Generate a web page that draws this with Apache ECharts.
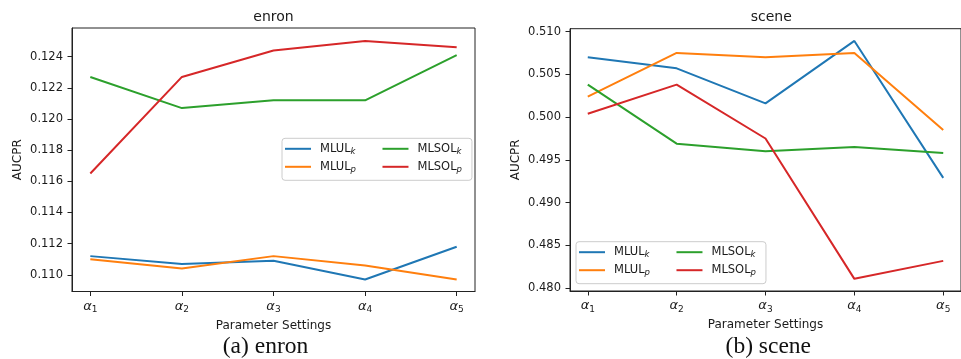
<!DOCTYPE html>
<html><head><meta charset="utf-8">
<script src="https://cdn.jsdelivr.net/npm/echarts@6/dist/echarts.min.js"></script>
<style>html,body{margin:0;padding:0;background:#fff}#c{width:961px;height:359px}</style>
</head><body><div id="c"></div>
<script>
// ---- data ----
const params = [1, 2, 3, 4, 5];
const paramSubs = ['1', '2', '3', '4', '5'];
const seriesNames = ['MLUL_k', 'MLUL_p', 'MLSOL_k', 'MLSOL_p'];
const seriesColors = ['#1f77b4', '#ff7f0e', '#2ca02c', '#d62728'];

const enronMLULk  = [0.1112, 0.1107, 0.1109, 0.1097, 0.1118];
const enronMLULp  = [0.1110, 0.1104, 0.1112, 0.1106, 0.1097];
const enronMLSOLk = [0.1227, 0.1207, 0.1212, 0.1212, 0.1241];
const enronMLSOLp = [0.1165, 0.1227, 0.1244, 0.1250, 0.1246];

const sceneMLULk  = [0.5070, 0.5057, 0.5016, 0.5089, 0.4929];
const sceneMLULp  = [0.5024, 0.5075, 0.5070, 0.5075, 0.4985];
const sceneMLSOLk = [0.5038, 0.4969, 0.4960, 0.4965, 0.4958];
const sceneMLSOLp = [0.5004, 0.5038, 0.4975, 0.4811, 0.4832];

const enronTicks = [0.110, 0.112, 0.114, 0.116, 0.118, 0.120, 0.122, 0.124];
const sceneTicks = [0.480, 0.485, 0.490, 0.495, 0.500, 0.505, 0.510];

const titles = ['enron', 'scene'];
const captions = ['(a) enron', '(b) scene'];
const xName = 'Parameter Settings';
const yName = 'AUCPR';

// ---- styling ----
const TXT = '#1a1a1a';
const FONT = 'DejaVu Sans';
const enronSets = [enronMLULk, enronMLULp, enronMLSOLk, enronMLSOLp];
const sceneSets = [sceneMLULk, sceneMLULp, sceneMLSOLk, sceneMLSOLp];

const grids = [
  {left: 72, right: 486, top: 28, bottom: 67.5},
  {left: 570, right: -11.6, top: 28.7, bottom: 68}
];
const yRanges = [[0.10893, 0.12584], [0.47968, 0.51033]];
const yTicks = [enronTicks, sceneTicks];

const xRich = {
  a: {fontFamily: FONT, fontStyle: 'italic', fontSize: 13, color: TXT, lineHeight: 16},
  s: {fontFamily: FONT, fontSize: 9, color: TXT, lineHeight: 8, verticalAlign: 'bottom'}
};
const legRich = {
  n: {fontFamily: FONT, fontSize: 11.5, color: TXT, lineHeight: 15, padding: [0, 0, 0, 4]},
  s: {fontFamily: FONT, fontStyle: 'italic', fontSize: 8.5, color: TXT, lineHeight: 8, verticalAlign: 'bottom'},
  g: {width: 22, lineHeight: 15}
};
function legFmt(name) {
  const [base, sub] = name.split('_');
  return '{n|' + base + '}{s|' + sub + '}' + (base === 'MLUL' ? '{g|}' : '');
}
function legendAt(left, top) {
  return {data: seriesNames, orient: 'vertical', left: left, top: top, height: 37, itemGap: 4.5,
    icon: 'rect', itemWidth: 26, itemHeight: 2, padding: [4.5, 10, 6, 3],
    backgroundColor: 'rgba(255,255,255,0.8)', borderColor: '#cccccc', borderWidth: 1, borderRadius: 3,
    selectedMode: false, formatter: legFmt, textStyle: {rich: legRich}};
}

const option = {
  animation: false,
  backgroundColor: '#fff',
  title: [
    {text: titles[0], left: 273.5, top: 10, textAlign: 'center', padding: 0,
     textStyle: {fontFamily: FONT, fontSize: 14, fontWeight: 'normal', color: TXT, lineHeight: 14}},
    {text: titles[1], left: 771.3, top: 10, textAlign: 'center', padding: 0,
     textStyle: {fontFamily: FONT, fontSize: 14, fontWeight: 'normal', color: TXT, lineHeight: 14}},
    {text: captions[0], left: 265.5, top: 335, textAlign: 'center', padding: 0,
     textStyle: {fontFamily: 'Liberation Serif', fontSize: 23.5, fontWeight: 'normal', color: '#111', lineHeight: 23}},
    {text: captions[1], left: 768.3, top: 335, textAlign: 'center', padding: 0,
     textStyle: {fontFamily: 'Liberation Serif', fontSize: 23.5, fontWeight: 'normal', color: '#111', lineHeight: 23}}
  ],
  legend: [legendAt(282, 138.3), legendAt(576, 241.7)],
  grid: grids.map(g => Object.assign({show: true, borderColor: '#222', borderWidth: 1, backgroundColor: 'transparent'}, g)),
  xAxis: [0, 1].map(i => ({
    type: 'value', gridIndex: i, min: 0.8, max: 5.2,
    splitLine: {show: false},
    axisLine: {show: true, lineStyle: {color: '#222', width: 1}},
    axisTick: {show: true, customValues: params, length: 4.5, lineStyle: {color: '#222', width: 1}},
    axisLabel: {customValues: params, margin: 7, formatter: v => '{a|α}{s|' + paramSubs[Math.round(v) - 1] + '}', rich: xRich},
    name: xName, nameLocation: 'middle', nameGap: 19,
    nameTextStyle: {fontFamily: FONT, fontSize: 12, color: TXT}
  })),
  yAxis: [0, 1].map(i => ({
    type: 'value', gridIndex: i, min: yRanges[i][0], max: yRanges[i][1],
    splitLine: {show: false},
    axisLine: {show: true, lineStyle: {color: '#222', width: 1}},
    axisTick: {show: true, customValues: yTicks[i], length: 4.5, lineStyle: {color: '#222', width: 1}},
    axisLabel: {customValues: yTicks[i], margin: 9, formatter: v => v.toFixed(3),
      fontFamily: FONT, fontSize: 11.5, color: TXT},
    name: yName, nameLocation: 'middle', nameGap: 48, nameRotate: 90,
    nameTextStyle: {fontFamily: FONT, fontSize: 12, color: TXT}
  })),
  series: []
};

[enronSets, sceneSets].forEach((sets, gi) => {
  sets.forEach((vals, si) => {
    option.series.push({
      type: 'line', name: seriesNames[si], xAxisIndex: gi, yAxisIndex: gi,
      data: params.map((p, k) => [p, vals[k]]),
      symbol: 'none', silent: true,
      lineStyle: {width: 2, color: seriesColors[si]},
      itemStyle: {color: seriesColors[si]}
    });
  });
});

const chart = echarts.init(document.getElementById('c'), null, {renderer: 'canvas'});
chart.setOption(option);
</script>
</body></html>
